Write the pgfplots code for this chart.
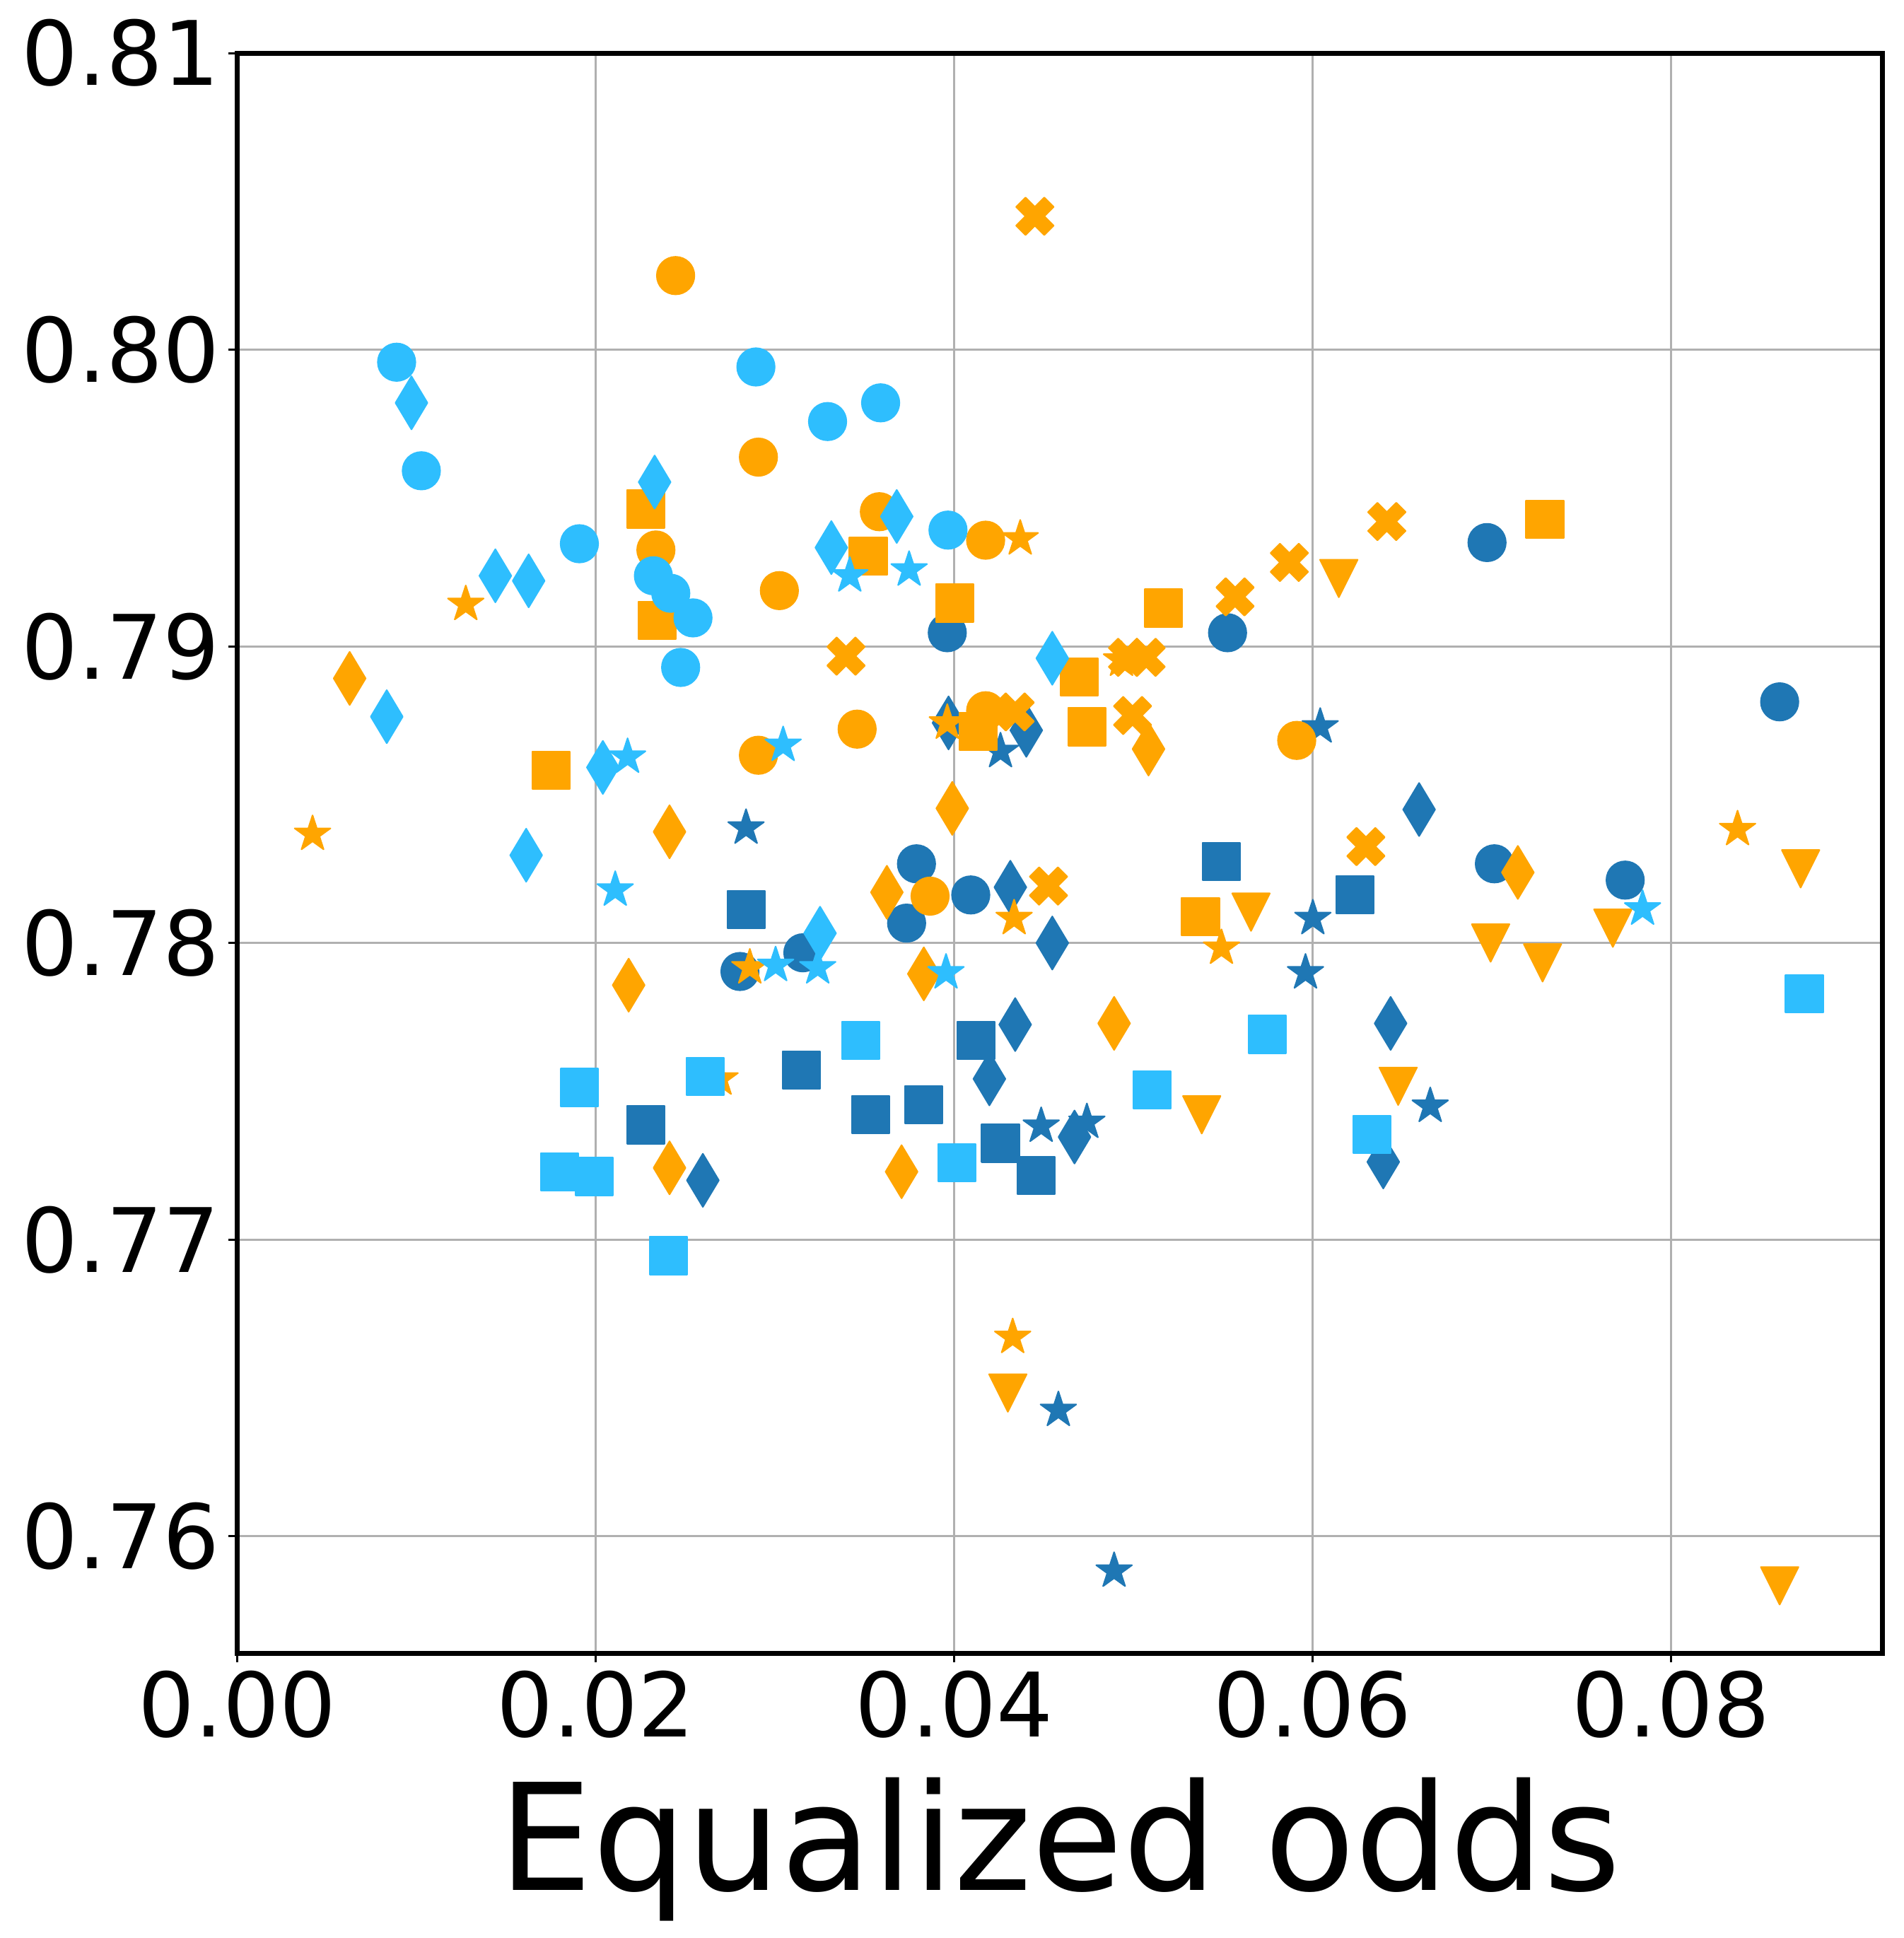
\documentclass[border=0pt]{standalone}
\usepackage{pgfplots}
\pgfplotsset{compat=1.18}
\usepackage{fontspec}
\setmainfont{DejaVu Sans}
\definecolor{dblue}{RGB}{31,119,180}
\definecolor{lblue}{RGB}{46,190,254}
\definecolor{orng}{RGB}{255,165,0}
\definecolor{gridgray}{RGB}{176,176,176}
\pgfdeclareplotmark{thindiamond}{%
  \pgfpathmoveto{\pgfqpoint{0pt}{1.414\pgfplotmarksize}}%
  \pgfpathlineto{\pgfqpoint{0.849\pgfplotmarksize}{0pt}}%
  \pgfpathlineto{\pgfqpoint{0pt}{-1.414\pgfplotmarksize}}%
  \pgfpathlineto{\pgfqpoint{-0.849\pgfplotmarksize}{0pt}}%
  \pgfpathclose\pgfusepathqfillstroke}
\pgfdeclareplotmark{filledx}{%
  \pgfpathmoveto{\pgfqpoint{-0.5\pgfplotmarksize}{-1\pgfplotmarksize}}%
  \pgfpathlineto{\pgfqpoint{0pt}{-0.5\pgfplotmarksize}}%
  \pgfpathlineto{\pgfqpoint{0.5\pgfplotmarksize}{-1\pgfplotmarksize}}%
  \pgfpathlineto{\pgfqpoint{1\pgfplotmarksize}{-0.5\pgfplotmarksize}}%
  \pgfpathlineto{\pgfqpoint{0.5\pgfplotmarksize}{0pt}}%
  \pgfpathlineto{\pgfqpoint{1\pgfplotmarksize}{0.5\pgfplotmarksize}}%
  \pgfpathlineto{\pgfqpoint{0.5\pgfplotmarksize}{1\pgfplotmarksize}}%
  \pgfpathlineto{\pgfqpoint{0pt}{0.5\pgfplotmarksize}}%
  \pgfpathlineto{\pgfqpoint{-0.5\pgfplotmarksize}{1\pgfplotmarksize}}%
  \pgfpathlineto{\pgfqpoint{-1\pgfplotmarksize}{0.5\pgfplotmarksize}}%
  \pgfpathlineto{\pgfqpoint{-0.5\pgfplotmarksize}{0pt}}%
  \pgfpathlineto{\pgfqpoint{-1\pgfplotmarksize}{-0.5\pgfplotmarksize}}%
  \pgfpathclose\pgfusepathqfillstroke}
\pgfdeclareplotmark{tridown}{%
  \pgfpathmoveto{\pgfqpoint{0pt}{-1\pgfplotmarksize}}%
  \pgfpathlineto{\pgfqpoint{-1\pgfplotmarksize}{1\pgfplotmarksize}}%
  \pgfpathlineto{\pgfqpoint{1\pgfplotmarksize}{1\pgfplotmarksize}}%
  \pgfpathclose\pgfusepathqfillstroke}
\pgfdeclareplotmark{fstar}{%
  \pgfpathmoveto{\pgfqpoint{0pt}{1\pgfplotmarksize}}%
  \pgfpathlineto{\pgfqpoint{-0.2245\pgfplotmarksize}{0.3090\pgfplotmarksize}}%
  \pgfpathlineto{\pgfqpoint{-0.9511\pgfplotmarksize}{0.3090\pgfplotmarksize}}%
  \pgfpathlineto{\pgfqpoint{-0.3633\pgfplotmarksize}{-0.1180\pgfplotmarksize}}%
  \pgfpathlineto{\pgfqpoint{-0.5878\pgfplotmarksize}{-0.8090\pgfplotmarksize}}%
  \pgfpathlineto{\pgfqpoint{0pt}{-0.382\pgfplotmarksize}}%
  \pgfpathlineto{\pgfqpoint{0.5878\pgfplotmarksize}{-0.8090\pgfplotmarksize}}%
  \pgfpathlineto{\pgfqpoint{0.3633\pgfplotmarksize}{-0.1180\pgfplotmarksize}}%
  \pgfpathlineto{\pgfqpoint{0.9511\pgfplotmarksize}{0.3090\pgfplotmarksize}}%
  \pgfpathlineto{\pgfqpoint{0.2245\pgfplotmarksize}{0.3090\pgfplotmarksize}}%
  \pgfpathclose\pgfusepathqfillstroke}
\pgfplotsset{
  pts/.style={only marks, mark size=7.6pt, mark options={line width=0.6pt, line join=round, solid}},
}
\begin{document}
\begin{tikzpicture}
\begin{axis}[
  name=ax,
  scale only axis, width=665.5pt, height=647.5pt,
  xmin=0, xmax=0.0918, ymin=0.75604, ymax=0.81,
  xtick={0,0.02,0.04,0.06,0.08}, ytick={0.76,0.77,0.78,0.79,0.80,0.81},
  xticklabels={0.00,0.02,0.04,0.06,0.08},
  yticklabels={0.76,0.77,0.78,0.79,0.80,0.81},
  scaled ticks=false,
  grid=major, major grid style={line width=0.85pt, color=gridgray},
  axis line style={line width=2pt},
  xtick pos=left, ytick pos=left,
  tick align=outside, major tick length=3.5pt,
  tick style={line width=0.8pt, black},
  tick label style={font=\fontsize{36}{36}\selectfont},
  xlabel={Equalized odds},
  xlabel style={font=\fontsize{60}{60}\selectfont, yshift=-9pt},
]
% dark blue
\addplot[pts, color=dblue, mark=*] coordinates {
(0.02805,0.77904) (0.03156,0.77967) (0.03735,0.78067) (0.03790,0.78267)
(0.04093,0.78162) (0.03962,0.79046) (0.05526,0.79046) (0.06974,0.79350)
(0.07015,0.78267) (0.07745,0.78212) (0.08607,0.78813)};
\addplot[pts, color=dblue, mark=thindiamond] coordinates {
(0.02598,0.77200) (0.03969,0.78742) (0.04403,0.78717) (0.04314,0.78188)
(0.04548,0.78000) (0.04341,0.77725) (0.04197,0.77542) (0.04672,0.77346)
(0.06595,0.78450) (0.06436,0.77729) (0.06395,0.77262)};
\addplot[pts, color=dblue, mark=square*] coordinates {
(0.02839,0.78113) (0.02281,0.77387) (0.03149,0.77571) (0.03535,0.77421)
(0.03831,0.77454) (0.04121,0.77671) (0.04259,0.77325) (0.04458,0.77217)
(0.05492,0.78275) (0.06236,0.78162)};
\addplot[pts, color=dblue, mark=fstar] coordinates {
(0.02839,0.78388) (0.04259,0.78646) (0.04486,0.77383) (0.04741,0.77396)
(0.04582,0.76425) (0.04893,0.75883) (0.06043,0.78729) (0.06002,0.78083)
(0.05961,0.77900) (0.06657,0.77450)};
% orange
\addplot[pts, color=orng, mark=*] coordinates {
(0.02446,0.80250) (0.02908,0.79638) (0.02336,0.79325) (0.03025,0.79188)
(0.03583,0.79454) (0.04176,0.79358) (0.03459,0.78721) (0.02908,0.78633)
(0.04176,0.78783) (0.03866,0.78158) (0.05912,0.78683)};
\addplot[pts, color=orng, mark=thindiamond] coordinates {
(0.00627,0.78892) (0.02412,0.78375) (0.02184,0.77858) (0.02412,0.77242)
(0.03625,0.78171) (0.03990,0.78454) (0.03831,0.77896) (0.03707,0.77229)
(0.04893,0.77729) (0.05085,0.78654) (0.07146,0.78238)};
\addplot[pts, color=orng, mark=square*] coordinates {
(0.01750,0.78583) (0.02281,0.79463) (0.02343,0.79088) (0.03521,0.79304)
(0.04004,0.79146) (0.04135,0.78713) (0.04700,0.78896) (0.04741,0.78729)
(0.05168,0.79129) (0.05375,0.78088) (0.07297,0.79429)};
\addplot[pts, color=orng, mark=fstar] coordinates {
(0.00420,0.78367) (0.01275,0.79142) (0.02860,0.77917) (0.02694,0.77542)
(0.04369,0.79363) (0.03962,0.78742) (0.04335,0.78083) (0.04327,0.76671)
(0.05492,0.77983) (0.08372,0.78383) (0.04934,0.78954)};
\addplot[pts, color=orng, mark=filledx] coordinates {
(0.04451,0.80450) (0.03397,0.78967) (0.04968,0.78963) (0.05072,0.78963)
(0.05568,0.79167) (0.05871,0.79283) (0.06415,0.79421) (0.04996,0.78767)
(0.04341,0.78779) (0.04527,0.78192) (0.06298,0.78325)};
\addplot[pts, color=orng, mark=tridown] coordinates {
(0.06147,0.79229) (0.05657,0.78104) (0.06994,0.78000) (0.07284,0.77933)
(0.07676,0.78050) (0.08724,0.78250) (0.05382,0.77421) (0.06478,0.77517)
(0.04300,0.76483) (0.08607,0.75833)};
% light blue
\addplot[pts, color=lblue, mark=*] coordinates {
(0.00889,0.79958) (0.01027,0.79592) (0.01909,0.79346) (0.02894,0.79942)
(0.03294,0.79758) (0.03590,0.79821) (0.03966,0.79392) (0.02322,0.79238)
(0.02419,0.79179) (0.02543,0.79096) (0.02474,0.78929)};
\addplot[pts, color=lblue, mark=thindiamond] coordinates {
(0.00972,0.79821) (0.01440,0.79238) (0.01626,0.79221) (0.00834,0.78763)
(0.01612,0.78296) (0.02040,0.78592) (0.02329,0.79554) (0.03315,0.79333)
(0.03680,0.79438) (0.04548,0.78960) (0.03252,0.78033)};
\addplot[pts, color=lblue, mark=square*] coordinates {
(0.01909,0.77513) (0.01799,0.77229) (0.01991,0.77213) (0.02405,0.76946)
(0.02612,0.77550) (0.03480,0.77671) (0.04017,0.77260) (0.05106,0.77504)
(0.05747,0.77692) (0.06333,0.77354) (0.08745,0.77829)};
\addplot[pts, color=lblue, mark=fstar] coordinates {
(0.02178,0.78627) (0.02109,0.78179) (0.03046,0.78667) (0.03418,0.79238)
(0.03749,0.79258) (0.03004,0.77925) (0.03239,0.77917) (0.03955,0.77900)
(0.07842,0.78115)};
\end{axis}
\pgfresetboundingbox
\path[use as bounding box] (ax.south west) ++(-96pt,-115pt) rectangle ++(770pt,784pt);
\end{tikzpicture}
\end{document}
